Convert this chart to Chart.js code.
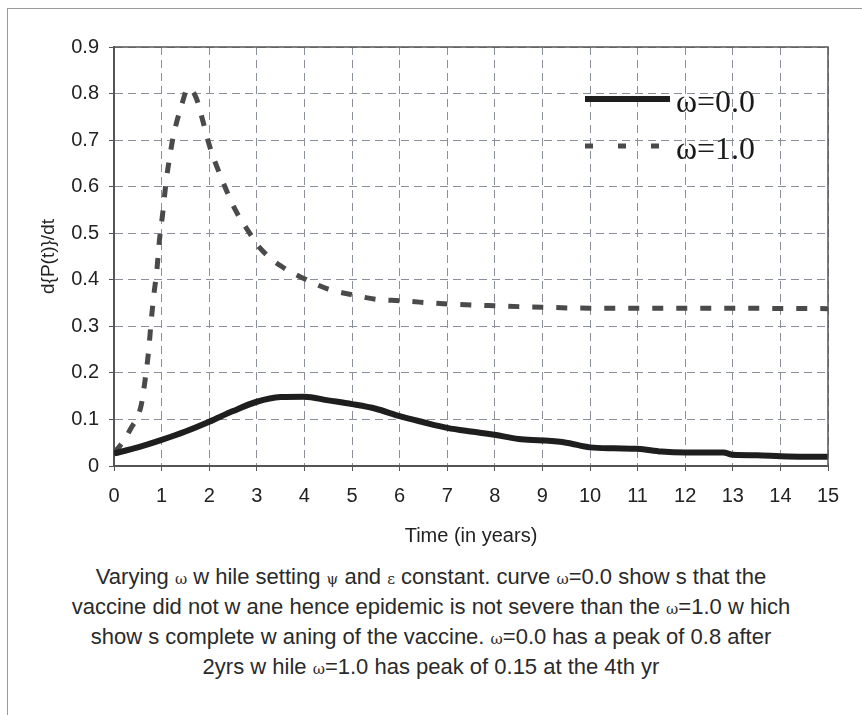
<!DOCTYPE html>
<html>
<head>
<meta charset="utf-8">
<script src="https://cdn.jsdelivr.net/npm/chart.js@4.4.1/dist/chart.umd.min.js"></script>
<style>
  body { margin: 0; background: #fff; }
  #marco {
    position: absolute; left: 7px; top: 8px; width: 900px; height: 760px;
    border-left: 1px solid #9a9a9a; border-top: 1px solid #9a9a9a;
  }
  #grafico { position: absolute; left: 0; top: 0; }
  #nota {
    position: absolute; left: 0; top: 563px; width: 862px;
    text-align: center; color: #2a2a2a;
    font-family: "Liberation Sans Narrow", "Arial Narrow", "Liberation Sans", sans-serif;
    font-size: 22px; line-height: 27px;
  }
  .w { font-family: "DejaVu Serif", serif; font-size: 15px; }
</style>
</head>
<body>
<div id="marco"></div>
<canvas id="grafico" width="862" height="560"></canvas>
<div id="nota">
  Varying <span class="w">ω</span> w hile setting <span class="w">ψ</span> and <span class="w">ε</span> constant. curve <span class="w">ω</span>=0.0 show s that the<br>
  vaccine did not w ane hence epidemic is not severe than the <span class="w">ω</span>=1.0 w hich<br>
  show s complete w aning of the vaccine. <span class="w">ω</span>=0.0 has a peak of 0.8 after<br>
  2yrs w hile <span class="w">ω</span>=1.0 has peak of 0.15 at the 4th yr
</div>

<script>
// datos
const tiempo0 = [0, 0.5, 1, 1.5, 2, 2.5, 3, 3.5, 4, 4.5, 5, 5.5, 6, 6.5, 7, 7.5, 8, 8.5, 9, 9.5,
  10, 10.5, 11, 11.5, 12, 12.5, 12.8, 13, 13.5, 14, 14.5, 15];
const omega0 = [0.027, 0.04, 0.056, 0.074, 0.095, 0.118, 0.138, 0.148, 0.149, 0.141, 0.133, 0.123,
  0.107, 0.094, 0.082, 0.074, 0.067, 0.058, 0.055, 0.05, 0.04, 0.038, 0.037, 0.031, 0.029, 0.029,
  0.029, 0.024, 0.023, 0.021, 0.02, 0.02];

const tiempo1 = [0, 0.1, 0.35, 0.57, 0.66, 0.73, 0.78, 0.84, 0.9, 0.95, 1.02, 1.1, 1.18, 1.25, 1.42,
  1.56, 1.73, 1.87, 2.0, 2.25, 2.55, 2.85, 3.05, 3.5, 4.0, 4.5, 5.0, 5.5, 6, 7, 8, 9, 10, 12, 15];
const omega1 = [0.03, 0.04, 0.08, 0.13, 0.19, 0.25, 0.31, 0.37, 0.42, 0.48, 0.54, 0.615, 0.67, 0.71,
  0.775, 0.812, 0.79, 0.74, 0.69, 0.62, 0.55, 0.5, 0.47, 0.43, 0.402, 0.38, 0.368, 0.358, 0.355,
  0.348, 0.344, 0.341, 0.339, 0.339, 0.338];

const etiquetasX = ['0', '1', '2', '3', '4', '5', '6', '7', '8', '9', '10', '11', '12', '13', '14', '15'];
const etiquetasY = ['0', '0.1', '0.2', '0.3', '0.4', '0.5', '0.6', '0.7', '0.8', '0.9'];
const series = ['ω=0.0', 'ω=1.0'];

function puntos(xs, ys) {
  return xs.map((x, i) => ({ x: x, y: ys[i] }));
}

// marco superior y derecho del area de trazado
const marcoPlugin = {
  id: 'marco',
  afterDatasetsDraw(chart) {
    const a = chart.chartArea;
    const ctx = chart.ctx;
    ctx.save();
    ctx.strokeStyle = '#555';
    ctx.lineWidth = 1.5;
    ctx.beginPath();
    ctx.moveTo(a.left, a.top);
    ctx.lineTo(a.right, a.top);
    ctx.lineTo(a.right, a.bottom);
    ctx.stroke();
    ctx.restore();
  }
};

// leyenda dentro del grafico, arriba a la derecha
const leyendaPlugin = {
  id: 'leyendaDentro',
  afterDatasetsDraw(chart) {
    const ctx = chart.ctx;
    const filas = [99, 146];
    ctx.save();
    chart.data.datasets.forEach((ds, i) => {
      const y = filas[i];
      ctx.strokeStyle = ds.borderColor;
      ctx.lineWidth = ds.borderWidth;
      ctx.setLineDash(i === 0 ? [] : [8, 25]);
      ctx.beginPath();
      ctx.moveTo(585, y);
      ctx.lineTo(670, y);
      ctx.stroke();
      ctx.setLineDash([]);
      ctx.fillStyle = '#1a1a1a';
      ctx.font = '32px "Liberation Serif", "Times New Roman", serif';
      ctx.textBaseline = 'middle';
      ctx.fillText(ds.label, 676, y + 5);
    });
    ctx.restore();
  }
};

const ctx = document.getElementById('grafico').getContext('2d');

new Chart(ctx, {
  type: 'line',
  data: {
    datasets: [{
      label: series[0],
      data: puntos(tiempo0, omega0),
      borderColor: '#1e1e1e',
      borderWidth: 6,
      pointRadius: 0,
      cubicInterpolationMode: 'monotone'
    }, {
      label: series[1],
      data: puntos(tiempo1, omega1),
      borderColor: '#4a4a4a',
      borderWidth: 5,
      borderDash: [11, 13],
      borderCapStyle: 'butt',
      pointRadius: 0,
      cubicInterpolationMode: 'monotone'
    }]
  },
  options: {
    responsive: false,
    animation: false,
    devicePixelRatio: 1,
    layout: { padding: { top: 47, right: 34, bottom: 0, left: 0 } },
    plugins: {
      legend: { display: false },
      tooltip: { enabled: false }
    },
    scales: {
      x: {
        type: 'linear',
        min: 0,
        max: 15,
        afterFit(scale) { scale.height = 94; },
        ticks: {
          stepSize: 1,
          autoSkip: false,
          maxRotation: 0,
          padding: 13,
          color: '#222',
          font: { family: 'Arial, "Liberation Sans", sans-serif', size: 20 },
          callback: (v, i) => etiquetasX[i]
        },
        grid: {
          color: '#8a8f99',
          lineWidth: 1,
          tickLength: 5,
          tickColor: '#555',
          tickBorderDash: []
        },
        border: { color: '#555', width: 2, dash: [8, 5] },
        title: {
          display: true,
          text: 'Time (in years)',
          color: '#222',
          padding: { top: 0, bottom: 12 },
          font: { family: '"Liberation Sans Narrow", "Arial Narrow", sans-serif', size: 20 }
        }
      },
      y: {
        min: 0,
        max: 0.9,
        afterFit(scale) { scale.width = 114; },
        ticks: {
          stepSize: 0.1,
          padding: 10,
          color: '#222',
          font: { family: 'Arial, "Liberation Sans", sans-serif', size: 20 },
          callback: (v, i) => etiquetasY[i]
        },
        grid: {
          color: '#8a8f99',
          lineWidth: 1,
          tickLength: 5,
          tickColor: '#555',
          tickBorderDash: []
        },
        border: { color: '#555', width: 2, dash: [8, 5] },
        title: {
          display: true,
          text: 'd{P(t)}/dt',
          color: '#222',
          padding: { top: 37, bottom: 0 },
          font: { family: 'Arial, "Liberation Sans", sans-serif', size: 19 }
        }
      }
    }
  },
  plugins: [marcoPlugin, leyendaPlugin]
});
</script>
</body>
</html>
